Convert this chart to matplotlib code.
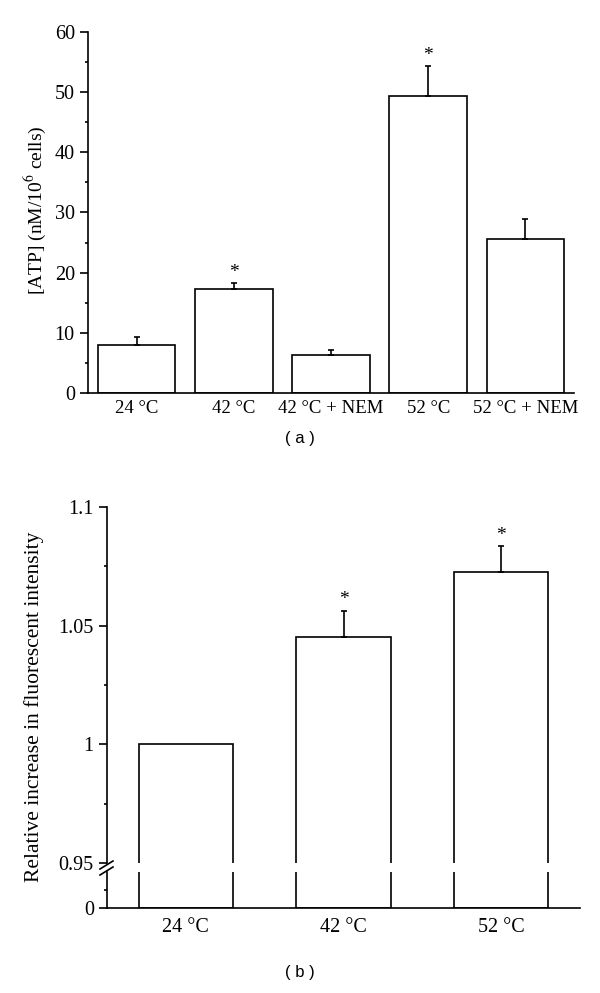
import numpy as np
import matplotlib
matplotlib.use("Agg")
import matplotlib.pyplot as plt
from matplotlib.ticker import MultipleLocator, FixedLocator
from matplotlib.lines import Line2D

plt.rcParams["font.family"] = ["Liberation Serif", "DejaVu Serif"]
plt.rcParams["mathtext.fontset"] = "stix"

# --- données (a) ---
cats_a = ["24 °C", "42 °C", "42 °C + NEM", "52 °C", "52 °C + NEM"]
atp = [8.0, 17.3, 6.3, 49.3, 25.6]
atp_err = [1.3, 1.0, 0.8, 5.0, 3.3]
atp_sig = [False, True, False, True, False]

# --- données (b) ---
cats_b = ["24 °C", "42 °C", "52 °C"]
fluo = [1.0, 1.0454, 1.0727]
fluo_err = [0.0, 0.0109, 0.0109]
fluo_sig = [False, True, True]

W, H = 600, 993
fig = plt.figure(figsize=(W / 100, H / 100), dpi=100)


def box(x0, y0, x1, y1):
    # pixels (haut-gauche) -> coordonnées figure
    return [x0 / W, 1 - y1 / H, (x1 - x0) / W, (y1 - y0) / H]


lw = 1.2
fs = 14.5

### --- Panneau (a) ---
ax1 = fig.add_axes(box(88, 32, 574, 393))
xa = np.arange(len(cats_a))
ax1.bar(xa, atp, width=0.8, color="white", edgecolor="black", linewidth=lw)
ax1.errorbar(xa, atp, yerr=[np.zeros(len(atp)), atp_err], fmt="none",
             ecolor="black", elinewidth=lw, capsize=2, capthick=lw)
for x, v, e, s in zip(xa, atp, atp_err, atp_sig):
    if s:
        ax1.text(x, v + e + 0.3, "*", ha="center", va="bottom", fontsize=14)
ax1.set_xlim(-0.5, 4.5)
ax1.set_ylim(0, 60)
ax1.yaxis.set_major_locator(MultipleLocator(10))
ax1.yaxis.set_minor_locator(MultipleLocator(5))
ax1.set_xticks(xa)
ax1.set_xticklabels(cats_a, fontsize=13.5)
ax1.tick_params(axis="x", length=0, pad=5)
ax1.tick_params(axis="y", which="major", length=5.5, width=lw, labelsize=fs, pad=4)
ax1.tick_params(axis="y", which="minor", length=2.5, width=lw)
for sp in ["top", "right"]:
    ax1.spines[sp].set_visible(False)
for sp in ["left", "bottom"]:
    ax1.spines[sp].set_linewidth(lw)
fig.text(35 / W, 1 - 210 / H, "[ATP] (nM/10$^{6}$ cells)", rotation=90,
         ha="center", va="center", fontsize=14)
fig.text(0.5, 1 - 438 / H, "( a )", ha="center", va="center",
         fontsize=12, family=["Liberation Sans", "DejaVu Sans"])

### --- Panneau (b), axe coupé ---
xb = np.arange(len(cats_b))
ax_up = fig.add_axes(box(107, 507, 580, 863))
ax_lo = fig.add_axes(box(107, 872, 580, 908))

for ax in (ax_up, ax_lo):
    ax.bar(xb, fluo, width=0.6, color="white", edgecolor="black", linewidth=lw)
    ax.set_xlim(-0.5, 2.5)
    ax.spines["top"].set_visible(False)
    ax.spines["right"].set_visible(False)
    ax.spines["left"].set_linewidth(lw)
    ax.spines["bottom"].set_linewidth(lw)

for x, v, e, s in zip(xb, fluo, fluo_err, fluo_sig):
    if e > 0:
        ax_up.errorbar([x], [v], yerr=[[0], [e]], fmt="none", ecolor="black",
                       elinewidth=lw, capsize=2.2, capthick=lw)
    if s:
        ax_up.text(x, v + e + 0.001, "*", ha="center", va="bottom", fontsize=14)

ax_up.set_ylim(0.95, 1.1)
ax_up.spines["bottom"].set_visible(False)
ax_up.yaxis.set_major_locator(FixedLocator([0.95, 1.0, 1.05, 1.1]))
ax_up.yaxis.set_minor_locator(FixedLocator([0.975, 1.025, 1.075]))
ax_up.set_yticklabels(["0.95", "1", "1.05", "1.1"])
ax_up.set_xticks([])
ax_up.tick_params(axis="y", which="major", length=5.5, width=lw, labelsize=fs, pad=4)
ax_up.tick_params(axis="y", which="minor", length=2.5, width=lw)

ax_lo.set_ylim(0, 0.9)
ax_lo.yaxis.set_major_locator(FixedLocator([0]))
ax_lo.yaxis.set_minor_locator(FixedLocator([0.45]))
ax_lo.set_yticklabels(["0"])
ax_lo.set_xticks(xb)
ax_lo.set_xticklabels(cats_b, fontsize=fs)
ax_lo.tick_params(axis="x", length=0, pad=7)
ax_lo.tick_params(axis="y", which="major", length=5.5, width=lw, labelsize=fs, pad=4)
ax_lo.tick_params(axis="y", which="minor", length=2.5, width=lw)

# marques de coupure
for yc in (865, 871):
    x0, x1 = 100, 113
    fig.add_artist(Line2D([x0 / W, x1 / W], [1 - (yc + 4) / H, 1 - (yc - 4) / H],
                          color="black", linewidth=lw))

fig.text(34 / W, 1 - 707 / H, "Relative increase in fluorescent intensity",
         rotation=90, ha="center", va="center", fontsize=15.5)
fig.text(0.5, 1 - 972 / H, "( b )", ha="center", va="center",
         fontsize=12, family=["Liberation Sans", "DejaVu Sans"])

fig.savefig("out.png", dpi=100)
